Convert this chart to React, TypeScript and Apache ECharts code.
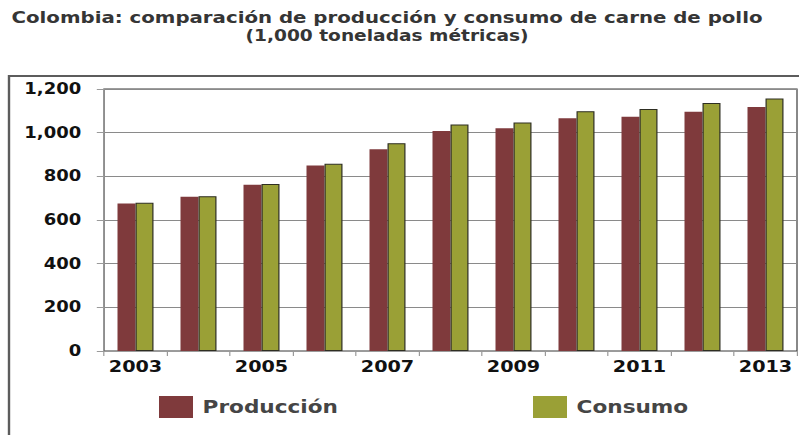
import React, { useEffect, useRef } from "react";
import * as echarts from "echarts";

const years = ["2003", "2004", "2005", "2006", "2007", "2008", "2009", "2010", "2011", "2012", "2013"];
const produccion = [676, 706, 762, 850, 924, 1008, 1020, 1066, 1073, 1096, 1118];
const consumo = [679, 709, 765, 858, 951, 1037, 1047, 1098, 1108, 1136, 1157];
const yMin = 0;
const yMax = 1200;
const yStep = 200;
const seriesNames = ["Producción", "Consumo"];
const titleLine1 = "Colombia: comparación de producción y consumo de carne de pollo";
const titleLine2 = "(1,000 toneladas métricas)";

const SX = 1.2;
const W = 799;
const H = 435;
const CW = W / SX;
const sx = (x: number) => x / SX;
const FONT = "'DejaVu Sans', Verdana, sans-serif";

export default function App() {
  const ref = useRef<HTMLDivElement>(null);
  useEffect(() => {
    const chart = echarts.init(ref.current!, null, { renderer: "svg", width: CW, height: H });
    const legendText = {
      fontFamily: FONT,
      fontWeight: "bold",
      fontSize: 18,
      color: "#454545",
      padding: [0, 0, 0, 3],
    };
    chart.setOption({
      animation: false,
      backgroundColor: "#ffffff",
      textStyle: { fontFamily: FONT },
      graphic: [
        {
          type: "rect",
          silent: true,
          z: -10,
          shape: { x: sx(9), y: 76, width: CW, height: H },
          style: { fill: "none", stroke: "#5c5c5c", lineWidth: 2 },
        },
        {
          type: "text",
          x: sx(387),
          y: 17,
          scaleX: 1.03,
          style: {
            text: titleLine1,
            textAlign: "center",
            textVerticalAlign: "middle",
            fontFamily: FONT,
            fontWeight: "bold",
            fontSize: 16,
            fill: "#353535",
          },
        },
        {
          type: "text",
          x: sx(387),
          y: 36,
          style: {
            text: titleLine2,
            textAlign: "center",
            textVerticalAlign: "middle",
            fontFamily: FONT,
            fontWeight: "bold",
            fontSize: 15.5,
            fill: "#353535",
          },
        },
      ],
      legend: [
        {
          data: [seriesNames[0]],
          left: sx(159),
          top: 396,
          padding: 0,
          itemWidth: sx(34),
          itemHeight: 22,
          icon: "rect",
          itemStyle: { borderWidth: 0 },
          textStyle: legendText,
        },
        {
          data: [seriesNames[1]],
          left: sx(533),
          top: 396,
          padding: 0,
          itemWidth: sx(34),
          itemHeight: 22,
          icon: "rect",
          itemStyle: { borderWidth: 0 },
          textStyle: legendText,
        },
      ],
      grid: {
        left: sx(104),
        right: CW - sx(797),
        top: 89,
        bottom: H - 351,
        show: true,
        borderColor: "#3a3a3a",
        borderWidth: 1,
        backgroundColor: "transparent",
      },
      xAxis: {
        type: "category",
        data: years,
        boundaryGap: true,
        axisLine: { show: true, lineStyle: { color: "#9a9a9a", width: 1 } },
        axisTick: { show: true, interval: 0, length: 5, lineStyle: { color: "#9a9a9a" } },
        axisLabel: {
          interval: 1,
          margin: 8,
          fontFamily: FONT,
          fontWeight: "bold",
          fontSize: 16,
          color: "#111111",
        },
      },
      yAxis: {
        type: "value",
        min: yMin,
        max: yMax,
        interval: yStep,
        axisLine: { show: true, lineStyle: { color: "#9a9a9a", width: 1 } },
        axisTick: { show: true, length: 6, lineStyle: { color: "#9a9a9a" } },
        splitLine: { show: true, lineStyle: { color: "#8a8a8a", width: 1 } },
        axisLabel: {
          margin: 19,
          fontFamily: FONT,
          fontWeight: "bold",
          fontSize: 15,
          color: "#111111",
          formatter: (v: number) => v.toLocaleString("en-US"),
        },
      },
      series: [
        {
          name: seriesNames[0],
          type: "bar",
          data: produccion,
          barWidth: sx(18),
          barGap: "0%",
          itemStyle: { color: "#7f3a3c" },
        },
        {
          name: seriesNames[1],
          type: "bar",
          data: consumo,
          barWidth: sx(18),
          barGap: "0%",
          itemStyle: { color: "#9aa036", borderColor: "#2e2e22", borderWidth: 1 },
        },
      ],
    });
    return () => chart.dispose();
  }, []);
  return (
    <div
      style={{
        position: "fixed",
        left: 0,
        top: 0,
        width: W,
        height: H,
        overflow: "hidden",
        background: "#ffffff",
      }}
    >
      <div
        ref={ref}
        style={{ width: CW, height: H, transform: `scaleX(${SX})`, transformOrigin: "0 0" }}
      />
    </div>
  );
}
